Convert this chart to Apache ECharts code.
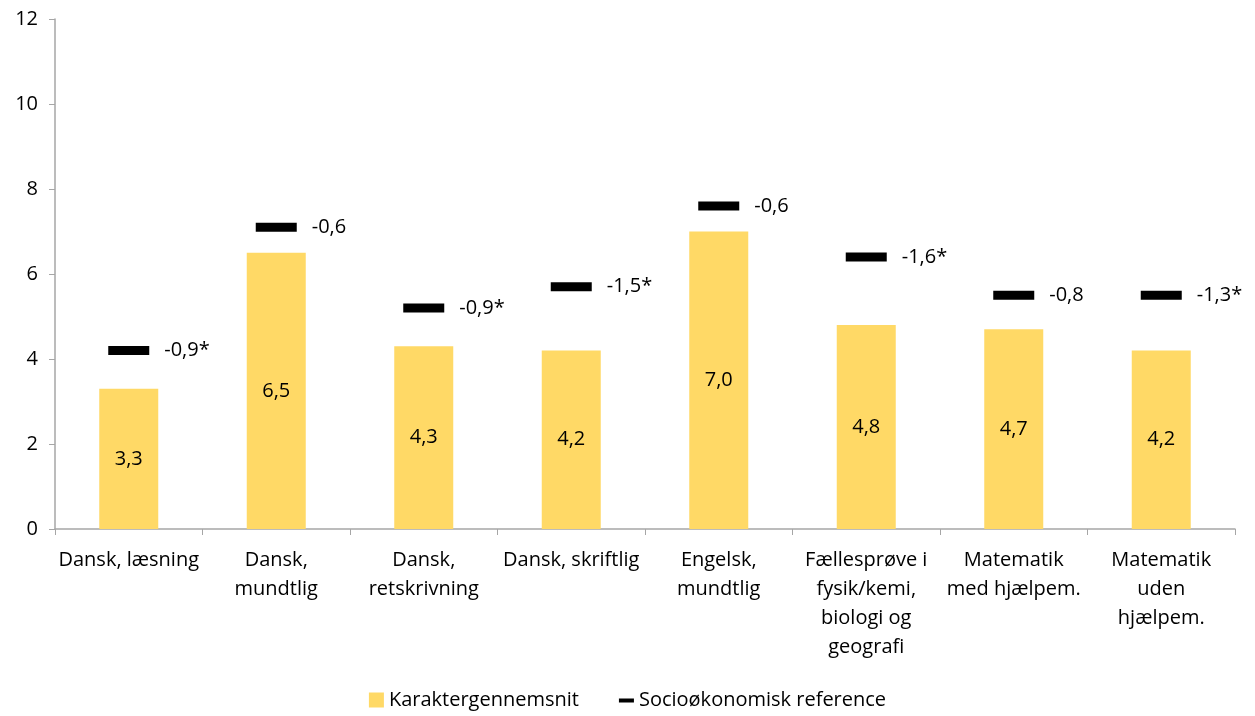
<!DOCTYPE html>
<html>
<head>
<meta charset="utf-8">
<script src="https://cdn.jsdelivr.net/npm/echarts@6/dist/echarts.min.js"></script>
<style>
  html, body { margin: 0; padding: 0; background: #fff; }
  #chart { width: 1255px; height: 716px; }
</style>
</head>
<body>
<div id="chart"></div>
<script>
const categories = [
  'Dansk, læsning',
  'Dansk,\nmundtlig',
  'Dansk,\nretskrivning',
  'Dansk, skriftlig',
  'Engelsk,\nmundtlig',
  'Fællesprøve i\nfysik/kemi,\nbiologi og\ngeografi',
  'Matematik\nmed hjælpem.',
  'Matematik\nuden\nhjælpem.'
]
const gradeAvg = [3.3, 6.5, 4.3, 4.2, 7.0, 4.8, 4.7, 4.2]
const socioRef = [4.2, 7.1, 5.2, 5.7, 7.6, 6.4, 5.5, 5.5]
const diffLabels = ['-0,9*', '-0,6', '-0,9*', '-1,5*', '-0,6', '-1,6*', '-0,8', '-1,3*']

const fontName = '"Open Sans", sans-serif'
const fs = 20
const chart = echarts.init(document.getElementById('chart'))
chart.setOption({
  animation: false,
  textStyle: { fontFamily: fontName },
  grid: { left: 55, right: 20, top: 19, bottom: 187 },
  legend: {
    bottom: 1,
    left: 'center',
    itemGap: 40,
    itemWidth: 15,
    itemHeight: 15,
    textStyle: { fontSize: fs, color: '#000', fontFamily: fontName },
    data: [
      { name: 'Karaktergennemsnit', icon: 'rect' },
      {
        name: 'Socioøkonomisk reference',
        icon: 'path://M0,6h15v4h-15z M0,0h0.01v15h-0.01z',
        itemStyle: { color: '#000', opacity: 1 }
      }
    ]
  },
  xAxis: {
    type: 'category',
    data: categories,
    axisLine: { lineStyle: { color: '#A6A6A6', width: 1.5 } },
    axisTick: { show: true, length: 6, lineStyle: { color: '#A6A6A6' } },
    axisLabel: {
      interval: 0,
      color: '#000',
      fontSize: fs,
      lineHeight: 29,
      margin: 17,
      fontFamily: fontName
    }
  },
  yAxis: {
    type: 'value',
    min: 0,
    max: 12,
    interval: 2,
    splitLine: { show: false },
    axisLine: { show: true, lineStyle: { color: '#A6A6A6', width: 1.5 } },
    axisTick: { show: true, length: 6, lineStyle: { color: '#A6A6A6' } },
    axisLabel: { color: '#000', fontSize: fs, margin: 17, fontFamily: fontName }
  },
  series: [
    {
      name: 'Karaktergennemsnit',
      type: 'bar',
      data: gradeAvg,
      barWidth: '40%',
      itemStyle: { color: '#FFD966' },
      label: {
        show: true,
        position: 'inside',
        color: '#000',
        fontSize: fs,
        fontFamily: fontName,
        formatter: p => p.value.toFixed(1).replace('.', ',')
      }
    },
    {
      name: 'Socioøkonomisk reference',
      type: 'scatter',
      data: socioRef,
      symbol: 'rect',
      symbolSize: [41, 9],
      itemStyle: { color: '#000', opacity: 1 },
      label: {
        show: true,
        position: 'right',
        distance: 15,
        color: '#000',
        fontSize: fs,
        fontFamily: fontName,
        formatter: p => diffLabels[p.dataIndex]
      }
    }
  ]
})
</script>
</body>
</html>
